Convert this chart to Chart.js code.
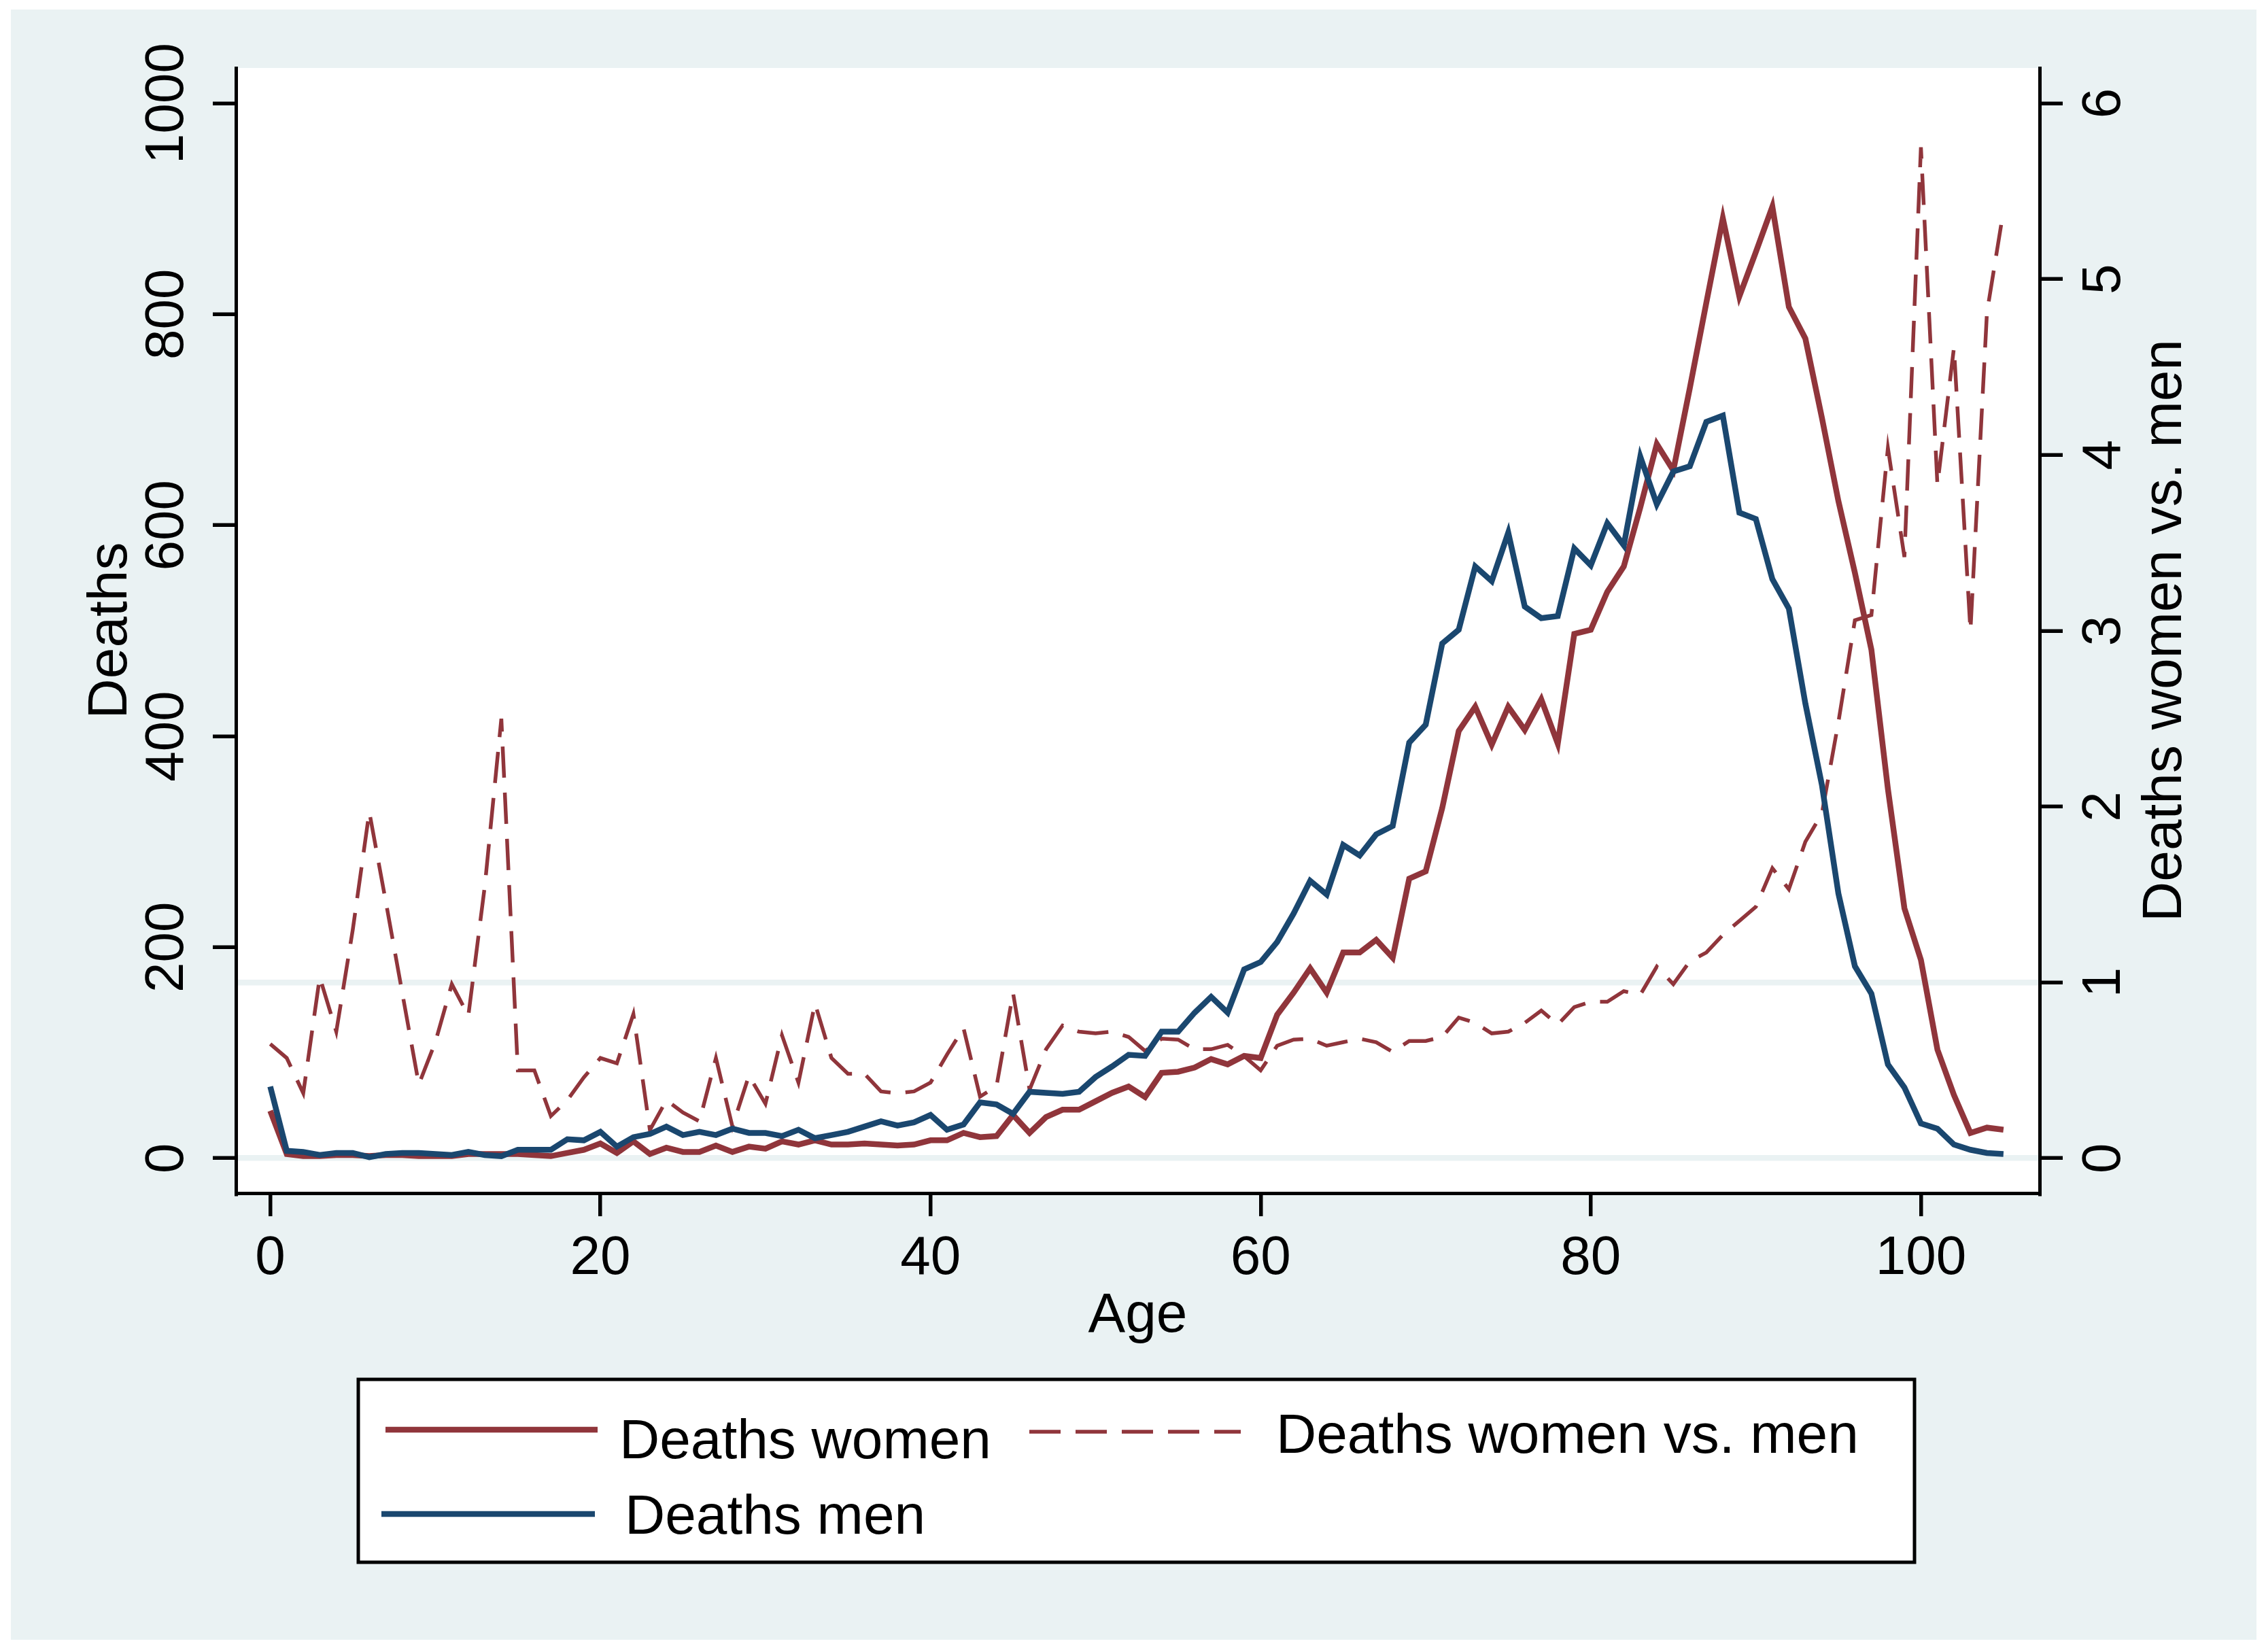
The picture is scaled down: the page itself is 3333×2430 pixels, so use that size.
<!DOCTYPE html>
<html>
<head>
<meta charset="utf-8">
<script src="https://cdn.jsdelivr.net/npm/chart.js@4.4.1/dist/chart.umd.min.js"></script>
<style>
html,body{margin:0;padding:0;background:#ffffff;}
canvas{display:block;}
</style>
</head>
<body>
<canvas id="c" width="3333" height="2430" style="width:3333px;height:2430px"></canvas>
<script>
// ---------- data ----------
const ages = [0,1,2,3,4,5,6,7,8,9,10,11,12,13,14,15,16,17,18,19,20,21,22,23,24,25,26,27,28,29,30,31,32,33,34,35,36,37,38,39,40,41,42,43,44,45,46,47,48,49,50,51,52,53,54,55,56,57,58,59,60,61,62,63,64,65,66,67,68,69,70,71,72,73,74,75,76,77,78,79,80,81,82,83,84,85,86,87,88,89,90,91,92,93,94,95,96,97,98,99,100,101,102,103,104,105];

const deathsWomen = [45,4,2,2,3,3,2,3,3,2,2,2,4,4,4,4,3,2,5,8,14,5,16,4,10,6,6,12,6,11,9,16,13,17,13,13,14,13,12,13,17,17,24,20,21,41,24,39,46,46,54,62,68,58,81,82,86,94,89,97,95,136,157,180,157,195,195,207,190,265,272,332,405,428,392,428,406,435,393,497,501,537,561,617,677,652,730,811,891,817,859,902,807,777,702,623,555,482,350,237,188,103,60,24,29,27];

const deathsMen = [68,7,6,3,5,5,1,4,5,5,4,3,6,3,2,8,8,8,18,17,25,11,20,23,30,22,25,22,28,24,24,21,27,19,22,25,30,35,31,34,41,27,32,53,51,42,63,62,61,63,77,87,98,97,120,120,138,153,138,179,186,205,232,263,250,297,287,307,315,394,411,488,501,561,547,593,523,512,514,578,562,602,581,665,620,651,656,698,704,612,606,549,521,431,354,251,182,156,89,67,33,28,13,8,5,4];

const ratioWomenMen = [0.65,0.57,0.37,1.03,0.72,1.30,1.97,1.46,0.94,0.42,0.66,0.99,0.81,1.55,2.50,0.50,0.50,0.24,0.33,0.46,0.57,0.54,0.82,0.16,0.33,0.26,0.21,0.57,0.18,0.47,0.31,0.70,0.43,0.88,0.57,0.48,0.48,0.38,0.37,0.38,0.43,0.59,0.74,0.35,0.41,0.94,0.39,0.62,0.755,0.72,0.71,0.72,0.69,0.61,0.68,0.675,0.62,0.62,0.645,0.58,0.50,0.64,0.675,0.68,0.64,0.66,0.68,0.66,0.605,0.667,0.667,0.69,0.80,0.77,0.71,0.72,0.77,0.84,0.76,0.86,0.89,0.89,0.95,0.93,1.09,0.99,1.12,1.17,1.27,1.35,1.43,1.65,1.53,1.80,1.96,2.48,3.06,3.09,4.04,3.42,5.75,3.83,4.61,3.00,4.81,5.39];

const xTicks = [0,20,40,60,80,100];
const leftTicks = [0,200,400,600,800,1000];
const rightTicks = [0,1,2,3,4,5,6];

const seriesNames = ['Deaths women','Deaths men','Deaths women vs. men'];
const axisTitles = {x:'Age', y:'Deaths', y2:'Deaths women vs. men'};

// ---------- style ----------
const FONT = "'Liberation Sans', Arial, Helvetica, sans-serif";
const MAROON = '#90353B';
const NAVY = '#1A476F';
const PANEL = '#EAF2F3';
const GRID = '#EAF2F3';

const toPoints = vals => ages.map((a, i) => ({x: a, y: vals[i]}));
const plainLabel = v => String(v);

const framePlugin = {
  id: 'frame',
  beforeDraw(chart) {
    const {ctx, chartArea: a} = chart;
    ctx.save();
    ctx.fillStyle = '#FFFFFF';
    ctx.fillRect(0, 0, chart.width, chart.height);
    ctx.fillStyle = PANEL;
    ctx.fillRect(16, 14, 3319 - 16, 2412 - 14);
    ctx.fillStyle = '#FFFFFF';
    ctx.fillRect(a.left, a.top, a.right - a.left, a.bottom - a.top);
    ctx.restore();
  },
  afterDraw(chart) {
    const {ctx, chartArea: a} = chart;
    // right axis title (reads bottom to top)
    ctx.save();
    ctx.fillStyle = '#000000';
    ctx.font = '82px ' + FONT;
    ctx.translate(3208, (a.top + a.bottom) / 2);
    ctx.rotate(-Math.PI / 2);
    ctx.textAlign = 'center';
    ctx.textBaseline = 'alphabetic';
    ctx.fillText(axisTitles.y2, 0, 0);
    ctx.restore();

    // legend box
    ctx.save();
    ctx.fillStyle = '#FFFFFF';
    ctx.fillRect(527, 2029, 2816 - 527, 2298 - 2029);
    ctx.lineWidth = 5;
    ctx.strokeStyle = '#000000';
    ctx.strokeRect(527, 2029, 2816 - 527, 2298 - 2029);
    const ds = chart.data.datasets;
    const items = [
      {d: ds[2], x1: 567, x2: 879, ly: 2103, tx: 911, ty: 2145},
      {d: ds[1], x1: 1514, x2: 1825, ly: 2106, tx: 1877, ty: 2137},
      {d: ds[0], x1: 561, x2: 875, ly: 2227, tx: 919, ty: 2256}
    ];
    items.forEach(it => {
      ctx.beginPath();
      ctx.setLineDash(it.d.borderDash || []);
      ctx.lineWidth = it.d.borderWidth;
      ctx.strokeStyle = it.d.borderColor;
      ctx.moveTo(it.x1, it.ly);
      ctx.lineTo(it.x2, it.ly);
      ctx.stroke();
      ctx.setLineDash([]);
      ctx.fillStyle = '#000000';
      ctx.font = '82px ' + FONT;
      ctx.textAlign = 'left';
      ctx.textBaseline = 'alphabetic';
      ctx.fillText(it.d.label, it.tx, it.ty);
    });
    ctx.restore();
  }
};

new Chart(document.getElementById('c'), {
  type: 'line',
  data: {
    datasets: [
      {label: seriesNames[1], data: toPoints(deathsMen), borderColor: NAVY, borderWidth: 8.5, yAxisID: 'y', order: 0},
      {label: seriesNames[2], data: toPoints(ratioWomenMen), borderColor: MAROON, borderWidth: 5.5, borderDash: [46, 22], yAxisID: 'y2', order: 1},
      {label: seriesNames[0], data: toPoints(deathsWomen), borderColor: MAROON, borderWidth: 8.5, yAxisID: 'y', order: 2}
    ]
  },
  options: {
    responsive: false,
    maintainAspectRatio: false,
    devicePixelRatio: 1,
    animation: false,
    layout: {padding: {left: 0, right: 0, top: 100, bottom: 440}},
    plugins: {legend: {display: false}, tooltip: {enabled: false}},
    elements: {line: {tension: 0, fill: false}, point: {radius: 0, hoverRadius: 0}},
    scales: {
      x: {
        type: 'linear', position: 'bottom', min: -2.08, max: 107.19,
        afterBuildTicks: s => { s.ticks = xTicks.map(v => ({value: v})); },
        afterFit: s => { s.height = 235; },
        grid: {drawOnChartArea: false, color: '#000000', tickColor: '#000000', tickLength: 34, tickWidth: 5.5, lineWidth: 5.5},
        border: {display: true, color: '#000000', width: 5},
        ticks: {callback: plainLabel, font: {family: FONT, size: 80}, color: '#000000', padding: 15, minRotation: 0, maxRotation: 0, autoSkip: false},
        title: {display: true, text: axisTitles.x, font: {family: FONT, size: 82}, color: '#000000', padding: {top: 0, bottom: 4}}
      },
      y: {
        type: 'linear', position: 'left', min: -33.06, max: 1033.5,
        afterBuildTicks: s => { s.ticks = leftTicks.map(v => ({value: v})); },
        afterFit: s => { s.width = 347; },
        grid: {
          drawOnChartArea: true,
          color: c => (c.tick && c.tick.value === 0) ? GRID : 'rgba(0,0,0,0)',
          lineWidth: 8.5, tickColor: '#000000', tickWidth: 5.5, tickLength: 34
        },
        border: {display: true, color: '#000000', width: 5},
        ticks: {callback: plainLabel, font: {family: FONT, size: 80}, color: '#000000', padding: -23, minRotation: 90, maxRotation: 90, crossAlign: 'center', autoSkip: false},
        title: {display: true, text: axisTitles.y, font: {family: FONT, size: 82}, color: '#000000', padding: {top: 114, bottom: 0}}
      },
      y2: {
        type: 'linear', position: 'right', min: -0.1984, max: 6.2014,
        afterBuildTicks: s => { s.ticks = rightTicks.map(v => ({value: v})); },
        afterFit: s => { s.width = 333; },
        grid: {
          drawOnChartArea: true,
          color: c => (c.tick && c.tick.value === 1) ? GRID : 'rgba(0,0,0,0)',
          lineWidth: 8.5, tickColor: '#000000', tickWidth: 5.5, tickLength: 34
        },
        border: {display: true, color: '#000000', width: 5},
        ticks: {callback: plainLabel, font: {family: FONT, size: 80}, color: '#000000', padding: 40, minRotation: 90, maxRotation: 90, crossAlign: 'center', autoSkip: false},
        title: {display: false}
      }
    }
  },
  plugins: [framePlugin]
});
</script>
</body>
</html>
